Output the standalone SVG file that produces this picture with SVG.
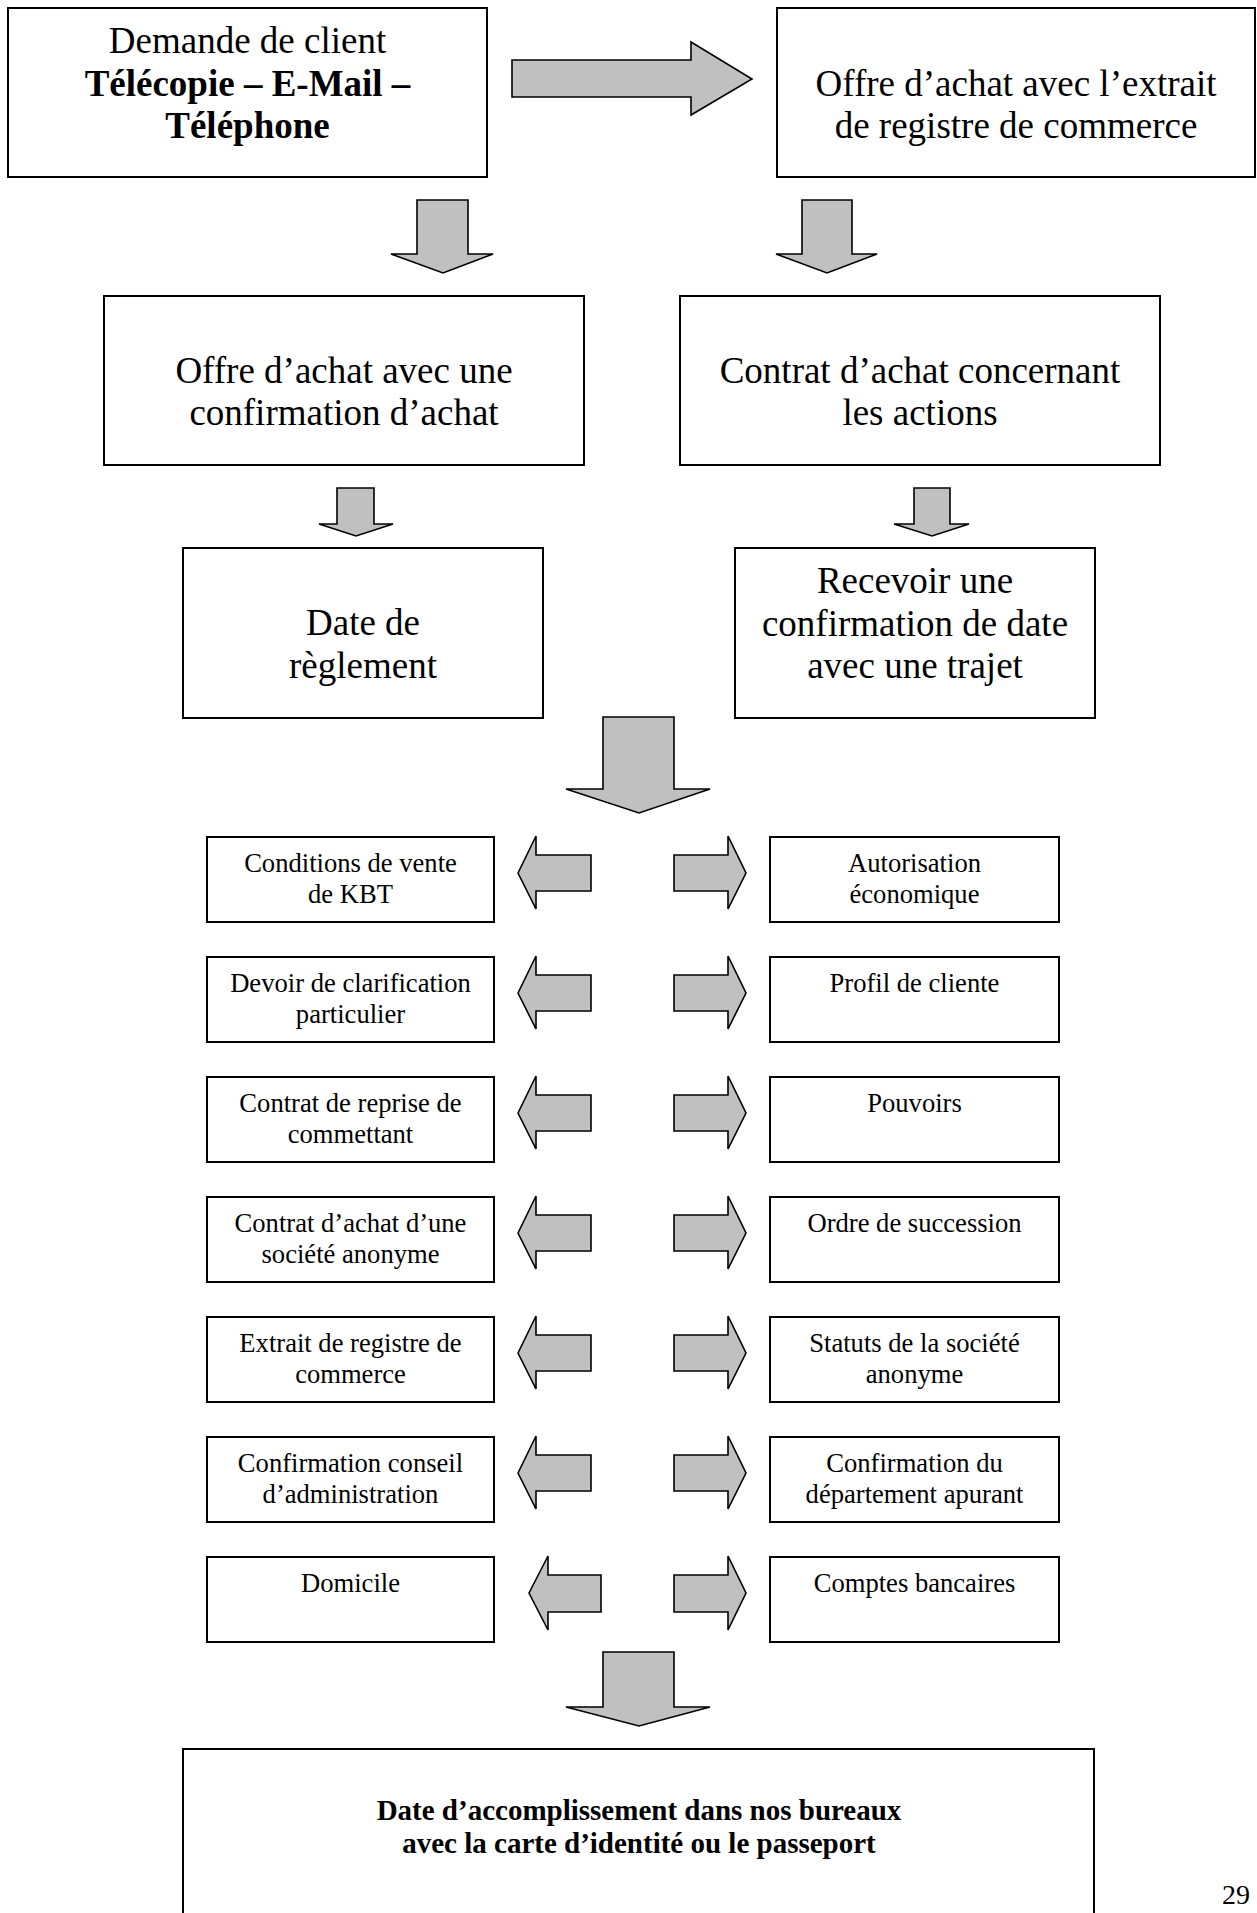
<svg xmlns="http://www.w3.org/2000/svg" width="1257" height="1913" viewBox="0 0 1257 1913">
<style>
.box{fill:#fff;stroke:#000;stroke-width:2}
.arr{fill:#c0c0c0;stroke:#000;stroke-width:1.6;stroke-linejoin:miter}
text{font-family:"Liberation Serif","Times New Roman",serif;fill:#000;text-anchor:middle}
.big{font-size:37px}
.bold{font-weight:bold}
.small{font-size:26.6px}
.fin{font-size:29px;font-weight:bold}
</style>
<rect width="1257" height="1913" fill="#fff"/>

<g id="connectors">
<polygon class="arr" points="512,60 691,60 691,42 752,79 691,115 691,97 512,97"/>
<polygon class="arr" points="417,200 468,200 468,254 493,254 443,273 391,254 417,254"/>
<polygon class="arr" points="802,200 852,200 852,254 877,254 827,273 776,254 802,254"/>
<polygon class="arr" points="337,488 374,488 374,524 393,524 356,536 319,524 337,524"/>
<polygon class="arr" points="914,488 950,488 950,524 969,524 932,536 894,524 914,524"/>
<polygon class="arr" points="603,717 674,717 674,789 710,789 639,813 566,789 603,789"/>
<polygon class="arr" points="603,1652 674,1652 674,1707 710,1707 639,1726 566,1707 603,1707"/>
<polygon class="arr" points="518,873 536,836 536,855 591,855 591,891 536,891 536,909"/>
<polygon class="arr" points="674,855 728,855 728,836 746,873 728,909 728,891 674,891"/>
<polygon class="arr" points="518,993 536,956 536,975 591,975 591,1011 536,1011 536,1029"/>
<polygon class="arr" points="674,975 728,975 728,956 746,993 728,1029 728,1011 674,1011"/>
<polygon class="arr" points="518,1113 536,1076 536,1095 591,1095 591,1131 536,1131 536,1149"/>
<polygon class="arr" points="674,1095 728,1095 728,1076 746,1113 728,1149 728,1131 674,1131"/>
<polygon class="arr" points="518,1233 536,1196 536,1215 591,1215 591,1251 536,1251 536,1269"/>
<polygon class="arr" points="674,1215 728,1215 728,1196 746,1233 728,1269 728,1251 674,1251"/>
<polygon class="arr" points="518,1353 536,1316 536,1335 591,1335 591,1371 536,1371 536,1389"/>
<polygon class="arr" points="674,1335 728,1335 728,1316 746,1353 728,1389 728,1371 674,1371"/>
<polygon class="arr" points="518,1473 536,1436 536,1455 591,1455 591,1491 536,1491 536,1509"/>
<polygon class="arr" points="674,1455 728,1455 728,1436 746,1473 728,1509 728,1491 674,1491"/>
<polygon class="arr" points="529,1593 548,1556 548,1575 601,1575 601,1612 548,1612 548,1630"/>
<polygon class="arr" points="674,1575 728,1575 728,1556 746,1593 728,1630 728,1612 674,1612"/>
</g>

<g id="n-demande">
<rect class="box" x="8" y="8" width="479" height="169"/>
<text class="big" x="247.5" y="53">Demande de client</text>
<text class="big bold" x="247.5" y="96">Télécopie – E-Mail –</text>
<text class="big bold" x="247.5" y="138">Téléphone</text>
</g>
<g id="n-offre-extrait">
<rect class="box" x="777" y="8" width="478" height="169"/>
<text class="big" x="1016" y="96">Offre d’achat avec l’extrait</text>
<text class="big" x="1016" y="138">de registre de commerce</text>
</g>
<g id="n-offre-confirmation">
<rect class="box" x="104" y="296" width="480" height="169"/>
<text class="big" x="344" y="383">Offre d’achat avec une</text>
<text class="big" x="344" y="425">confirmation d’achat</text>
</g>
<g id="n-contrat-actions">
<rect class="box" x="680" y="296" width="480" height="169"/>
<text class="big" x="920" y="383">Contrat d’achat concernant</text>
<text class="big" x="920" y="425">les actions</text>
</g>
<g id="n-date-reglement">
<rect class="box" x="183" y="548" width="360" height="170"/>
<text class="big" x="363" y="635">Date de</text>
<text class="big" x="363" y="678">règlement</text>
</g>
<g id="n-recevoir">
<rect class="box" x="735" y="548" width="360" height="170"/>
<text class="big" x="915" y="593">Recevoir une</text>
<text class="big" x="915" y="636">confirmation de date</text>
<text class="big" x="915" y="678">avec une trajet</text>
</g>

<g id="n-conditions">
<rect class="box" x="207" y="837" width="287" height="85"/>
<text class="small" x="350.5" y="872">Conditions de vente</text>
<text class="small" x="350.5" y="903">de KBT</text>
</g>
<g id="n-autorisation">
<rect class="box" x="770" y="837" width="289" height="85"/>
<text class="small" x="914.5" y="872">Autorisation</text>
<text class="small" x="914.5" y="903">économique</text>
</g>
<g id="n-devoir">
<rect class="box" x="207" y="957" width="287" height="85"/>
<text class="small" x="350.5" y="992">Devoir de clarification</text>
<text class="small" x="350.5" y="1023">particulier</text>
</g>
<g id="n-profil">
<rect class="box" x="770" y="957" width="289" height="85"/>
<text class="small" x="914.5" y="992">Profil de cliente</text>
</g>
<g id="n-reprise">
<rect class="box" x="207" y="1077" width="287" height="85"/>
<text class="small" x="350.5" y="1112">Contrat de reprise de</text>
<text class="small" x="350.5" y="1143">commettant</text>
</g>
<g id="n-pouvoirs">
<rect class="box" x="770" y="1077" width="289" height="85"/>
<text class="small" x="914.5" y="1112">Pouvoirs</text>
</g>
<g id="n-contrat-sa">
<rect class="box" x="207" y="1197" width="287" height="85"/>
<text class="small" x="350.5" y="1232">Contrat d’achat d’une</text>
<text class="small" x="350.5" y="1263">société anonyme</text>
</g>
<g id="n-succession">
<rect class="box" x="770" y="1197" width="289" height="85"/>
<text class="small" x="914.5" y="1232">Ordre de succession</text>
</g>
<g id="n-extrait">
<rect class="box" x="207" y="1317" width="287" height="85"/>
<text class="small" x="350.5" y="1352">Extrait de registre de</text>
<text class="small" x="350.5" y="1383">commerce</text>
</g>
<g id="n-statuts">
<rect class="box" x="770" y="1317" width="289" height="85"/>
<text class="small" x="914.5" y="1352">Statuts de la société</text>
<text class="small" x="914.5" y="1383">anonyme</text>
</g>
<g id="n-conseil">
<rect class="box" x="207" y="1437" width="287" height="85"/>
<text class="small" x="350.5" y="1472">Confirmation conseil</text>
<text class="small" x="350.5" y="1503">d’administration</text>
</g>
<g id="n-departement">
<rect class="box" x="770" y="1437" width="289" height="85"/>
<text class="small" x="914.5" y="1472">Confirmation du</text>
<text class="small" x="914.5" y="1503">département apurant</text>
</g>
<g id="n-domicile">
<rect class="box" x="207" y="1557" width="287" height="85"/>
<text class="small" x="350.5" y="1592">Domicile</text>
</g>
<g id="n-comptes">
<rect class="box" x="770" y="1557" width="289" height="85"/>
<text class="small" x="914.5" y="1592">Comptes bancaires</text>
</g>

<g id="n-final">
<rect class="box" x="183" y="1749" width="911" height="200"/>
<text class="fin" x="639" y="1820">Date d’accomplissement dans nos bureaux</text>
<text class="fin" x="639" y="1853">avec la carte d’identité ou le passeport</text>
</g>

<text x="1222" y="1904" style="font-size:28px;text-anchor:start">29</text>
</svg>
